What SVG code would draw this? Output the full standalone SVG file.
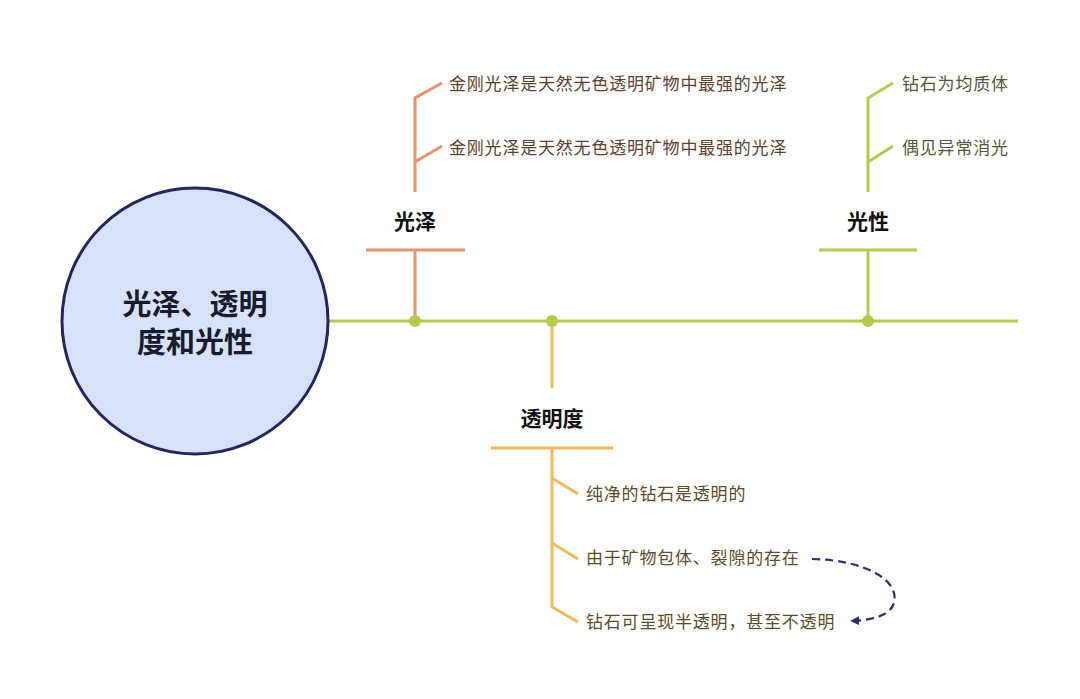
<svg xmlns="http://www.w3.org/2000/svg" width="1080" height="699" viewBox="0 0 1080 699">
<style>
.t{font-family:"Noto Sans CJK SC","Noto Sans",sans-serif}
.leaf{font-size:17px;letter-spacing:0.8px}
.lab{font-size:21px;font-weight:bold;fill:#111;text-anchor:middle}
.or{stroke:#e29271;stroke-width:3;fill:none}
.ye{stroke:#f0b95e;stroke-width:3;fill:none}
.gr{stroke:#b6c94d;stroke-width:3;fill:none}
</style>
<defs>
<marker id="ah" viewBox="0 0 10 10" refX="8" refY="5" markerWidth="9" markerHeight="9" orient="auto-start-reverse" markerUnits="userSpaceOnUse">
<path d="M0,0 L10,5 L0,10 Z" fill="#2b2e6b"/>
</marker>
</defs>
<rect width="1080" height="699" fill="#ffffff"/>
<g id="connectors">
<line class="gr" x1="328" y1="321" x2="1018" y2="321"/>
<path class="or" d="M415,321 V250 M366,250 H465 M415,192 V98 L442,83 M415,162 L442,146"/>
<path class="ye" d="M552,321 V388 M491,448 H613 M552,448 V608 M552,478 L578,494 M552,543 L578,559 M552,607 L578,622"/>
<path class="gr" d="M868,321 V250 M819,250 H917 M868,192 V98 L893,83 M868,162 L893,146"/>
<circle cx="415" cy="321" r="6" fill="#b6c94d"/>
<circle cx="552" cy="321" r="6" fill="#b6c94d"/>
<circle cx="868" cy="321" r="6" fill="#b6c94d"/>
<path d="M812,559 C865,560 900,580 894,603 C890,616 872,620 852,621" fill="none" stroke="#2b2e6b" stroke-width="2.2" stroke-dasharray="8,5" marker-end="url(#ah)"/>
</g>
<g id="root">
<circle cx="195" cy="321" r="133" fill="#d7e1f9" stroke="#24255c" stroke-width="3"/>
<text class="t" x="195" y="315" font-size="29" font-weight="bold" fill="#1a1a2e" text-anchor="middle">光泽、透明</text>
<text class="t" x="195" y="353" font-size="29" font-weight="bold" fill="#1a1a2e" text-anchor="middle">度和光性</text>
</g>
<g id="gloss">
<text class="t lab" x="415" y="229">光泽</text>
<text class="t leaf" x="449" y="90" fill="#5e4030">金刚光泽是天然无色透明矿物中最强的光泽</text>
<text class="t leaf" x="449" y="154" fill="#5e4030">金刚光泽是天然无色透明矿物中最强的光泽</text>
</g>
<g id="transparency">
<text class="t lab" x="552" y="426">透明度</text>
<text class="t leaf" x="586" y="500" fill="#5e4a2a">纯净的钻石是透明的</text>
<text class="t leaf" x="586" y="564" fill="#5e4a2a">由于矿物包体、裂隙的存在</text>
<text class="t leaf" x="586" y="628" fill="#5e4a2a">钻石可呈现半透明，甚至不透明</text>
</g>
<g id="optics">
<text class="t lab" x="868" y="229">光性</text>
<text class="t leaf" x="902" y="90" fill="#55563a">钻石为均质体</text>
<text class="t leaf" x="902" y="154" fill="#55563a">偶见异常消光</text>
</g>
</svg>
